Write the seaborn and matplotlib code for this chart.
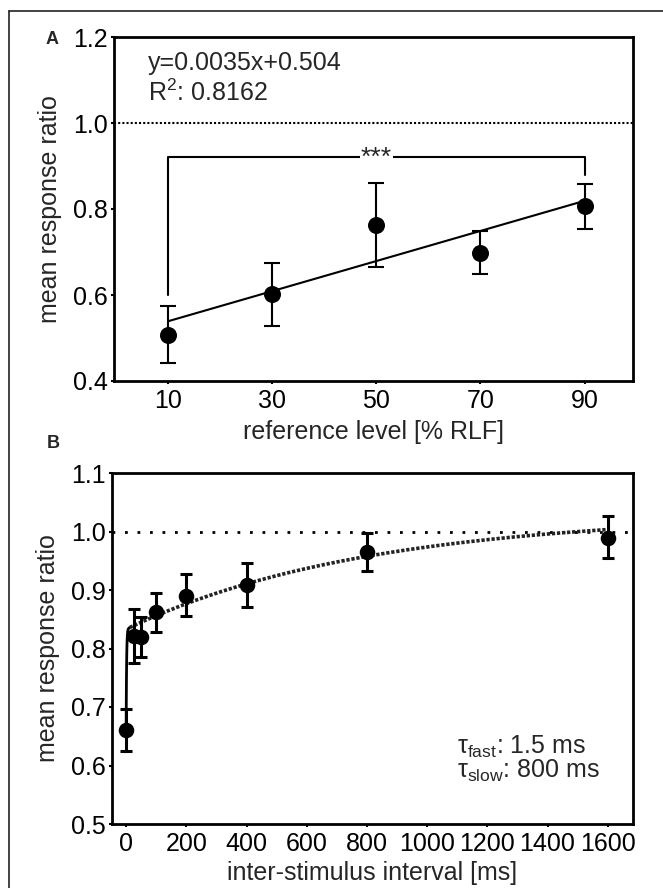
import numpy as np
import pandas as pd
import matplotlib
matplotlib.use("Agg")
import matplotlib.pyplot as plt
from matplotlib.lines import Line2D
import seaborn as sns

# panel A: response ratio vs reference level
ref_level = [10, 30, 50, 70, 90]
ratio_a = [0.507, 0.602, 0.763, 0.697, 0.807]
err_a_low = [0.065, 0.074, 0.097, 0.049, 0.053]
err_a_high = [0.068, 0.073, 0.098, 0.052, 0.052]
slope_a, icpt_a = 0.0035, 0.504
fit_a_x = [10, 90]

# panel B: response ratio vs inter-stimulus interval
isi = [0, 25, 50, 100, 200, 400, 800, 1600]
ratio_b = [0.660, 0.821, 0.819, 0.862, 0.890, 0.909, 0.965, 0.989]
err_b_low = [0.035, 0.046, 0.034, 0.034, 0.035, 0.038, 0.032, 0.034]
err_b_high = [0.036, 0.046, 0.034, 0.033, 0.037, 0.038, 0.033, 0.037]
tau_fast, tau_slow = 1.5, 800.0
plateau, amp_slow, amp_fast = 1.03, 0.197, 0.173

sns.set_theme(style="ticks", context="notebook")
plt.rcParams["font.family"] = ["Liberation Sans", "DejaVu Sans"]
plt.rcParams["mathtext.fontset"] = "custom"
plt.rcParams["mathtext.rm"] = "Liberation Sans"
plt.rcParams["mathtext.it"] = "Liberation Sans"
plt.rcParams["axes.linewidth"] = 2.0

FS = 18
W, H = 663, 888
fig = plt.figure(figsize=(W / 100, H / 100), dpi=100)
axA = fig.add_axes([114 / W, 1 - 381 / H, (633 - 114) / W, (381 - 37) / H])
axB = fig.add_axes([112 / W, 1 - 824 / H, (633 - 112) / W, (824 - 473) / H])

# frame around the figure (top and left only, rest is cropped)
fig.add_artist(Line2D([9 / W, 1], [1 - 11 / H, 1 - 11 / H], color="#222222", lw=1.2))
fig.add_artist(Line2D([9 / W, 9 / W], [0, 1 - 11 / H], color="#222222", lw=1.2))

for ax in (axA, axB):
    for s in ax.spines.values():
        s.set_linewidth(2.0)
        s.set_color("black")
    ax.tick_params(axis="both", direction="out", length=2.5, width=1.5,
                   labelsize=FS, colors="black", pad=2)
    ax.tick_params(axis="x", pad=3)
    ax.grid(False)

# ---- panel A ----
dfA = pd.DataFrame({"level": ref_level, "ratio": ratio_a})
axA.axhline(1.0, color="black", lw=1.5, ls=(0, (1, 1)), zorder=1)
fitA = pd.DataFrame({"x": fit_a_x, "y": [slope_a * x + icpt_a for x in fit_a_x]})
sns.lineplot(data=fitA, x="x", y="y", ax=axA, color="black", lw=1.5, zorder=2)
axA.errorbar(ref_level, ratio_a, yerr=[err_a_low, err_a_high], fmt="none",
             ecolor="black", elinewidth=1.5, capsize=6, capthick=1.5, zorder=3)
sns.scatterplot(data=dfA, x="level", y="ratio", ax=axA, color="black", s=150,
                edgecolor="black", linewidth=0, zorder=4)

# significance bracket
axA.plot([10, 10, 90, 90], [0.60, 0.922, 0.922, 0.878], color="black", lw=1.5, zorder=2)
axA.text(50, 0.918, "***", ha="center", va="center", fontsize=19,
         bbox=dict(facecolor="white", edgecolor="none", pad=0.5), zorder=3)

axA.set_xlim(-0.4, 99.3)
axA.set_ylim(0.4, 1.2)
axA.set_xticks(ref_level)
axA.set_xticklabels([str(v) for v in ref_level])
yA = [0.4, 0.6, 0.8, 1.0, 1.2]
axA.set_yticks(yA)
axA.set_yticklabels([f"{v:.1f}" for v in yA])
axA.set_xlabel("reference level [% RLF]", fontsize=FS, labelpad=5)
axA.set_ylabel("mean response ratio", fontsize=FS, labelpad=8)
axA.text(0.066, 0.924, "y=0.0035x+0.504", transform=axA.transAxes,
         fontsize=FS, va="center", ha="left")
axA.text(0.066, 0.837, r"R$^2$: 0.8162", transform=axA.transAxes,
         fontsize=FS, va="center", ha="left")

# ---- panel B ----
dfB = pd.DataFrame({"isi": isi, "ratio": ratio_b})
axB.axhline(1.0, color="black", lw=2, ls=(0, (1, 3.5)), zorder=1)
fast_x = np.linspace(0, 12, 60)
slow_x = np.linspace(12, 1600, 300)
fast_y = plateau - amp_slow * np.exp(-fast_x / tau_slow) - amp_fast * np.exp(-fast_x / tau_fast)
slow_y = plateau - amp_slow * np.exp(-slow_x / tau_slow) - amp_fast * np.exp(-slow_x / tau_fast)
sns.lineplot(x=fast_x, y=fast_y, ax=axB, color="black", lw=2.0, zorder=2, sort=False)
sns.lineplot(x=slow_x, y=slow_y, ax=axB, color="#222222", lw=2.6,
             ls=(0, (0.9, 0.5)), zorder=2, sort=False)
axB.errorbar(isi, ratio_b, yerr=[err_b_low, err_b_high], fmt="none",
             ecolor="black", elinewidth=2.2, capsize=4, capthick=2.2, zorder=3)
sns.scatterplot(data=dfB, x="isi", y="ratio", ax=axB, color="black", s=125,
                edgecolor="black", linewidth=0, zorder=4)

axB.set_xlim(-47, 1684)
axB.set_ylim(0.5, 1.1)
xB = list(range(0, 1601, 200))
axB.set_xticks(xB)
axB.set_xticklabels([str(v) for v in xB])
yB = [0.5, 0.6, 0.7, 0.8, 0.9, 1.0, 1.1]
axB.set_yticks(yB)
axB.set_yticklabels([f"{v:.1f}" for v in yB])
axB.set_xlabel("inter-stimulus interval [ms]", fontsize=FS, labelpad=4)
axB.set_ylabel("mean response ratio", fontsize=FS, labelpad=8)
axB.text(0.662, 0.219, r"τ$_{\mathregular{fast}}$: 1.5 ms", transform=axB.transAxes,
         fontsize=18, va="center", ha="left")
axB.text(0.662, 0.150, r"τ$_{\mathregular{slow}}$: 800 ms", transform=axB.transAxes,
         fontsize=18, va="center", ha="left")

fig.text(52 / W, 1 - 39 / H, "A", fontsize=13, fontweight="bold", ha="center", va="center")
fig.text(53 / W, 1 - 443 / H, "B", fontsize=13, fontweight="bold", ha="center", va="center")

fig.savefig("out.png", dpi=100)
